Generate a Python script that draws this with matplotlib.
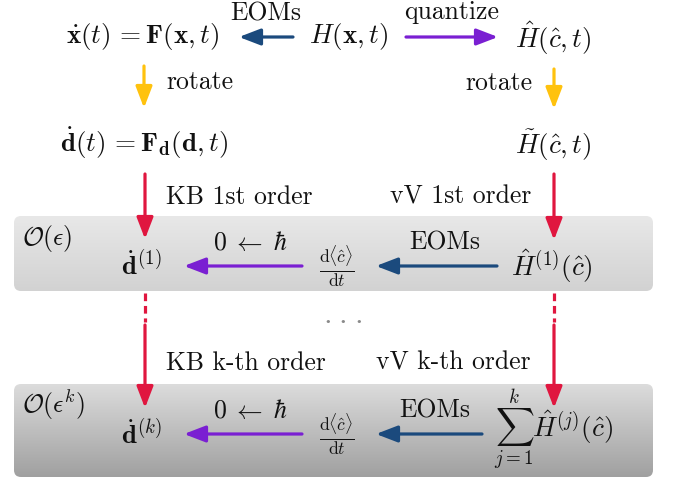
import numpy as np
import matplotlib
matplotlib.use("Agg")
import matplotlib.pyplot as plt
from matplotlib.patches import FancyBboxPatch
from matplotlib.colors import to_rgb

plt.rcParams['mathtext.fontset'] = 'cm'
plt.rcParams['font.family'] = ['cmr10', 'DejaVu Serif']

# ---- content ----
node_labels = [
    r'$\dot{\mathbf{x}}(t)\,=\mathbf{F}(\mathbf{x},t)$',
    r'$H(\mathbf{x},t)$',
    r'$\hat{H}(\hat{c},t)$',
    r'$\dot{\mathbf{d}}(t)\,=\mathbf{F}_{\mathbf{d}}(\mathbf{d},t)$',
    r'$\tilde{H}(\hat{c},t)$',
    r'$\dot{\mathbf{d}}^{(1)}$',
    r'$\frac{\mathrm{d}\langle\hat{c}\rangle}{\mathrm{d}t}$',
    r'$\hat{H}^{(1)}(\hat{c})$',
    r'$\dot{\mathbf{d}}^{(k)}$',
    r'$\frac{\mathrm{d}\langle\hat{c}\rangle}{\mathrm{d}t}$',
    r'$\sum_{j=1}^{k}\hat{H}^{(j)}(\hat{c})$',
]
node_xy = [(143, 37), (349, 37), (553, 38), (144, 143), (553, 145),
           (141, 265), (337, 267), (552, 266), (141, 434), (337, 435), (553, 430)]
node_size = [19.5, 19.5, 19.5, 19.5, 19.5, 19.5, 18, 19.5, 19.5, 18, 19.5]

edge_labels = ['EOMs', 'quantize', 'rotate', 'rotate', 'KB 1st order', 'vV 1st order',
               r'$0\;\leftarrow\;\hbar$', 'EOMs', 'KB k-th order', 'vV k-th order',
               r'$0\;\leftarrow\;\hbar$', 'EOMs']
edge_xy = [(266, 14), (452, 12), (166, 82), (532, 83), (166, 197), (531, 197),
           (250, 243), (445, 243), (166, 363), (531, 363), (250, 411), (435, 411)]
edge_ha = ['center', 'center', 'left', 'right', 'left', 'right',
           'center', 'center', 'left', 'right', 'center', 'center']

order_labels = [r'$\mathcal{O}(\epsilon)$', r'$\mathcal{O}(\epsilon^k)$']
order_xy = [(22, 238), (22, 405)]

ellipsis_label = r'${\cdot}\;{\cdot}\;{\cdot}$'

C_BLUE = '#1b4a7d'
C_PURPLE = '#7a1fd2'
C_YELLOW = '#ffc20e'
C_RED = '#e0163f'

arrows = [  # (x0, y0, x1, y1, color)
    (293, 37, 239, 37, C_BLUE),
    (406, 37, 498, 37, C_PURPLE),
    (144, 66, 144, 108, C_YELLOW),
    (554, 69, 554, 109, C_YELLOW),
    (145, 174, 145, 239, C_RED),
    (554, 174, 554, 240, C_RED),
    (302, 266, 184, 266, C_PURPLE),
    (497, 266, 376, 266, C_BLUE),
    (145, 325, 145, 408, C_RED),
    (554, 325, 554, 408, C_RED),
    (302, 434, 184, 434, C_PURPLE),
    (482, 434, 376, 434, C_BLUE),
]
dashes = [(145, 293, 145, 322), (554, 293, 554, 322)]

boxes = [  # (x, y, w, h, top colour, bottom colour)
    (14, 216, 639, 75, '#e8e8e8', '#d2d2d2'),
    (14, 384, 639, 93, '#dcdcdc', '#a0a0a0'),
]

fig = plt.figure(figsize=(6.75, 4.8), dpi=100)
ax = fig.add_axes([0, 0, 1, 1])

for (x, y, w, h, c0, c1) in boxes:
    patch = FancyBboxPatch((x, y), w, h, boxstyle='round,pad=0,rounding_size=7',
                           facecolor='none', edgecolor='none')
    ax.add_patch(patch)
    t = np.linspace(0, 1, 256)[:, None]
    a, b = np.array(to_rgb(c0)), np.array(to_rgb(c1))
    img = (a[None, None, :] * (1 - t[..., None]) + b[None, None, :] * t[..., None])
    img = np.repeat(img, 2, axis=1)
    im = ax.imshow(img, extent=(x, x + w, y + h, y), aspect='auto', zorder=0,
                   interpolation='bilinear')
    im.set_clip_path(patch)
ax.set_xlim(0, 675)
ax.set_ylim(480, 0)
ax.axis('off')

for (x0, y0, x1, y1, c) in arrows:
    ax.annotate('', xy=(x1, y1), xytext=(x0, y0),
                arrowprops=dict(arrowstyle='-|>,head_length=0.65,head_width=0.25',
                                mutation_scale=20, color=c, lw=2.3,
                                shrinkA=0, shrinkB=0), zorder=3)
for (x0, y0, x1, y1) in dashes:
    ax.plot([x0, x1], [y0, y1], color=C_RED, lw=2.3, linestyle=(0, (2.4, 1.5)),
            solid_capstyle='butt', zorder=3)

for lab, (x, y), s in zip(node_labels, node_xy, node_size):
    ax.text(x, y, lab, fontsize=s, ha='center', va='center', color='#111111', zorder=4)
for lab, (x, y), ha in zip(edge_labels, edge_xy, edge_ha):
    ax.text(x, y, lab, fontsize=18.5, ha=ha, va='center', color='#111111', zorder=4)
for lab, (x, y) in zip(order_labels, order_xy):
    ax.text(x, y, lab, fontsize=18.5, ha='left', va='center', color='#111111', zorder=4)
ax.text(343, 319, ellipsis_label, fontsize=22, ha='center', va='center', color='#8a8a8a')

fig.savefig('out.png', dpi=100)
